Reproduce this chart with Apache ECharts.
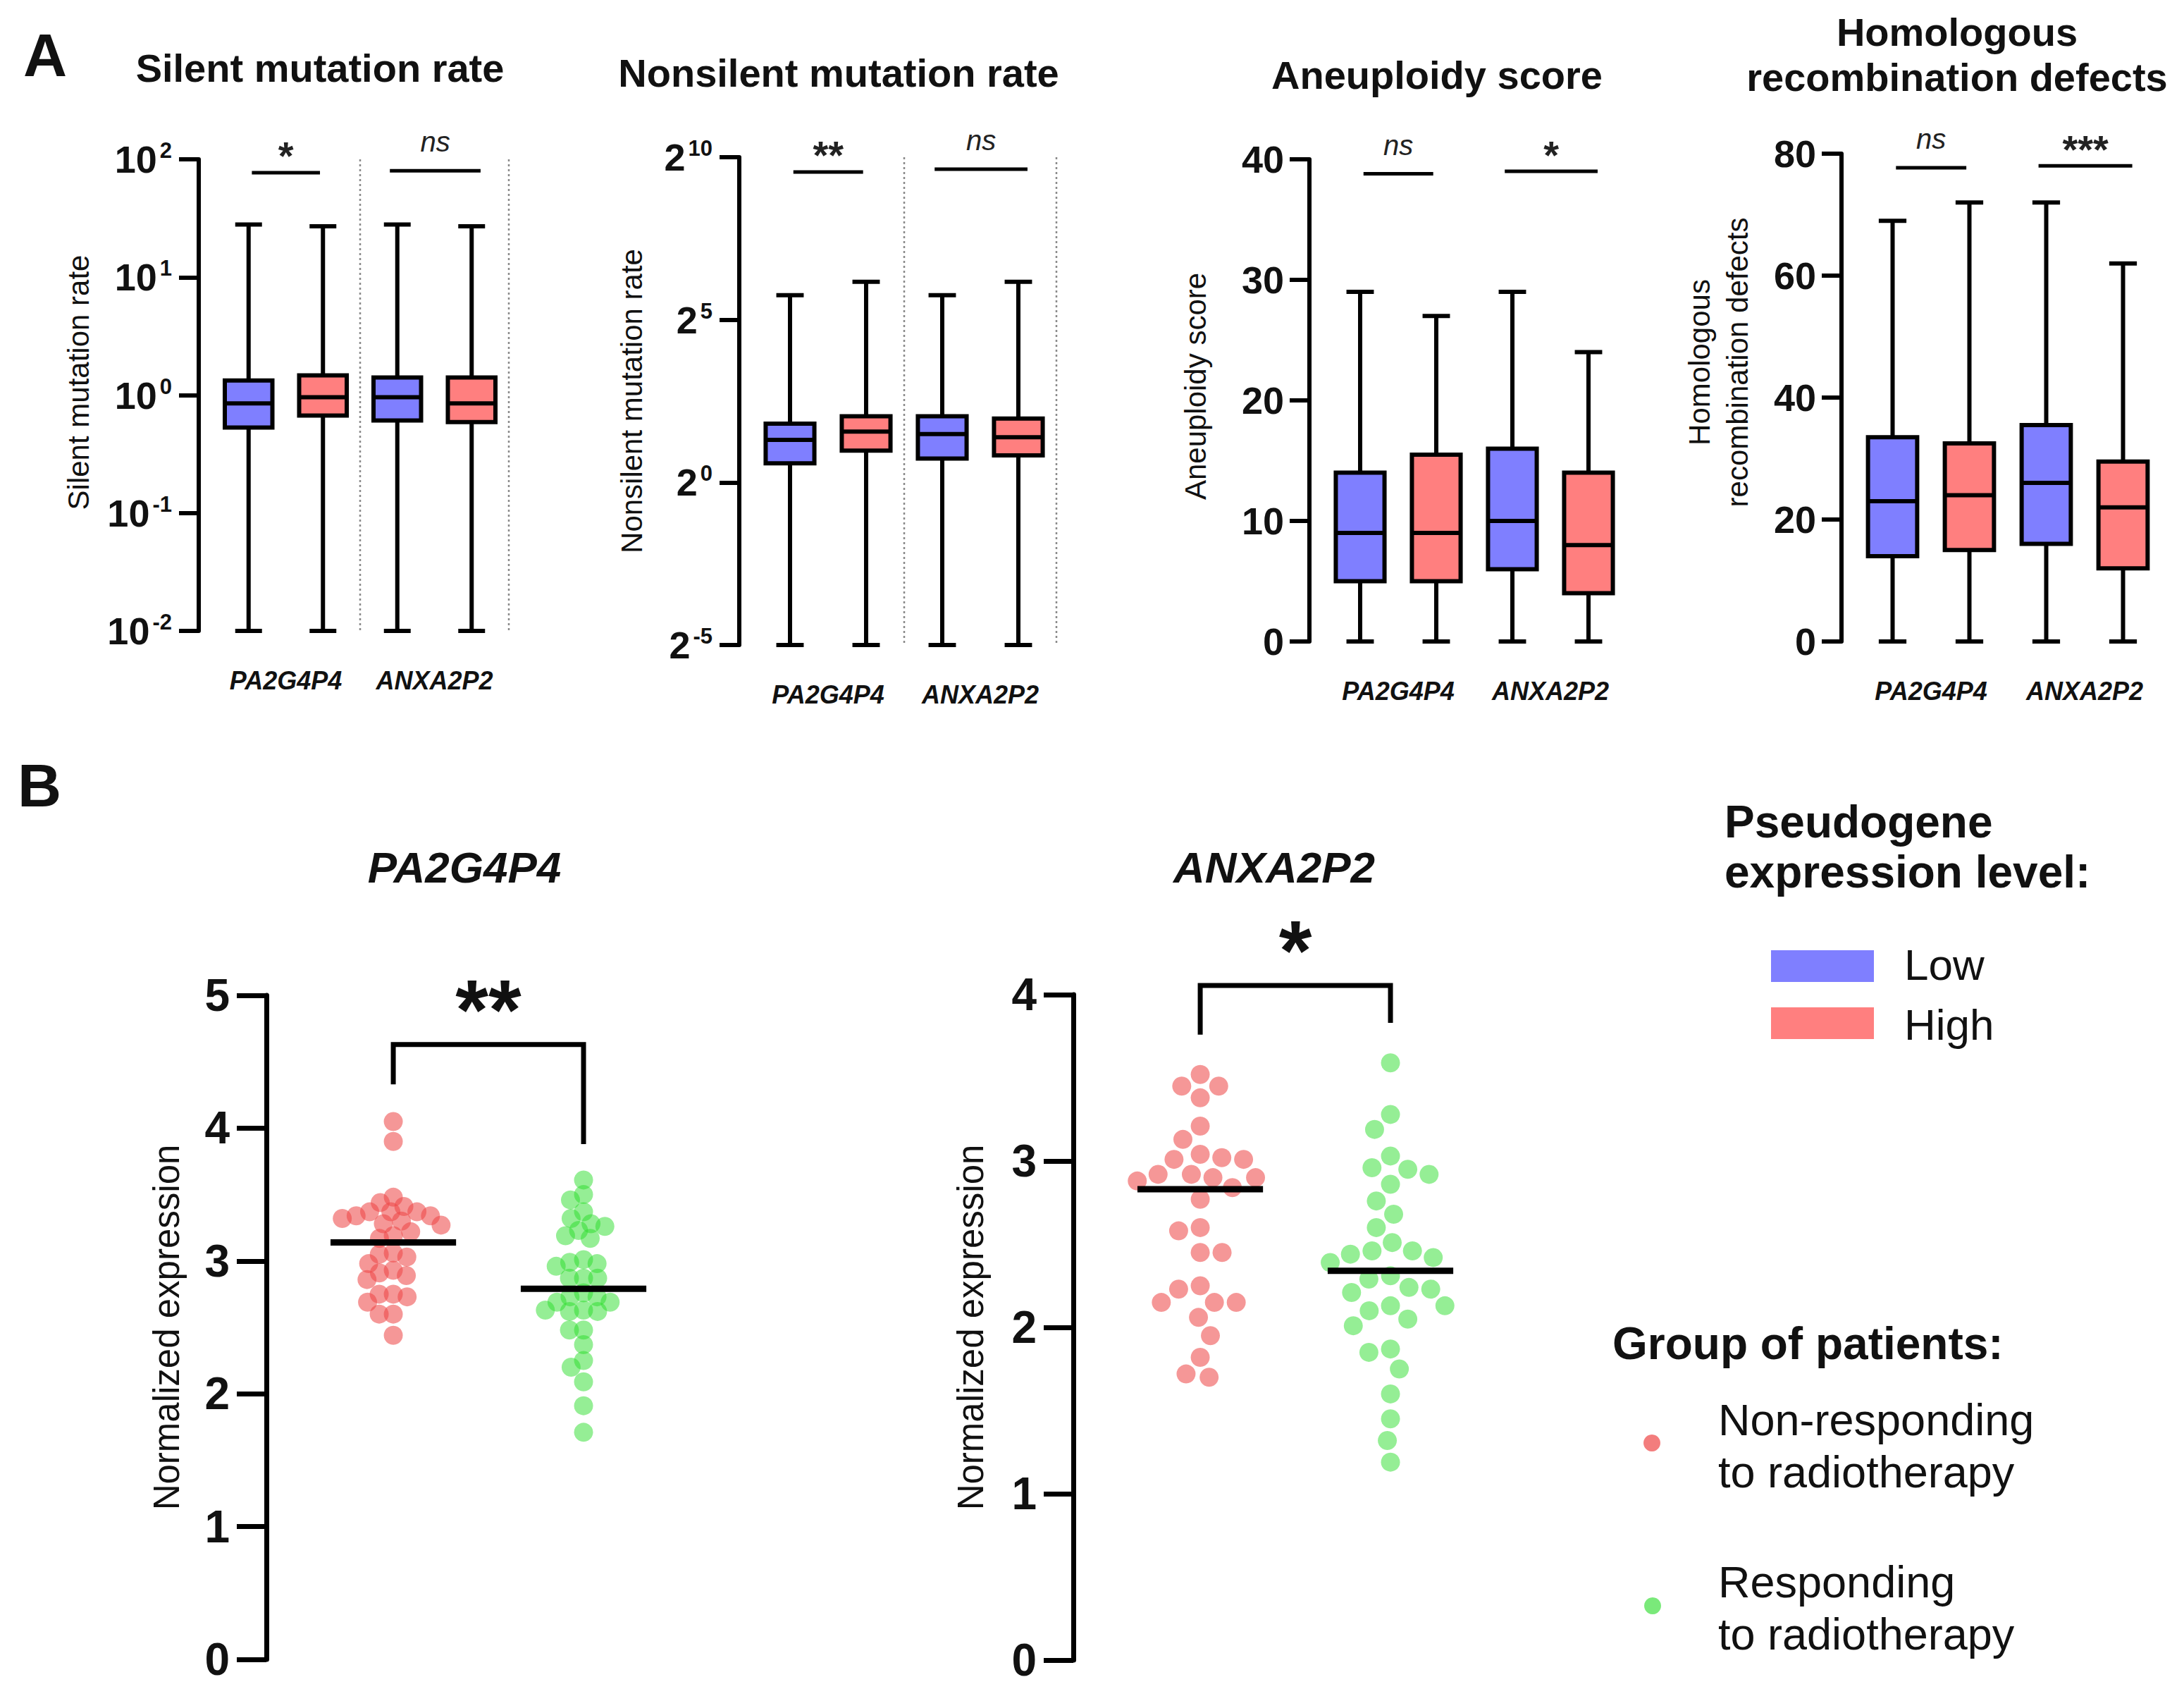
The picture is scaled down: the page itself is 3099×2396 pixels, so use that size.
<!DOCTYPE html>
<html><head><meta charset="utf-8">
<script src="https://cdn.jsdelivr.net/npm/echarts@6/dist/echarts.min.js"></script>
<style>html,body{margin:0;padding:0;background:#fff}#c{width:3099px;height:2396px}</style>
</head><body><div id="c"></div>
<script>
// ---------------- DATA ----------------
const genes = ['PA2G4P4', 'ANXA2P2'];
// box statistics per gene: [min, Q1, median, Q3, max]
const silentLow      = [[0.01, 0.53, 0.85, 1.33, 28], [0.01, 0.61, 0.96, 1.41, 28]];
const silentHigh     = [[0.01, 0.67, 0.96, 1.47, 27], [0.01, 0.59, 0.85, 1.41, 27]];
const nonsilentLow   = [[0.03125, 1.5, 2.48, 3.5, 54], [0.03125, 1.66, 2.8, 4.1, 54]];
const nonsilentHigh  = [[0.03125, 1.97, 2.95, 4.1, 72], [0.03125, 1.78, 2.62, 3.9, 72]];
const aneuploidyLow  = [[0, 5, 9, 14, 29], [0, 6, 10, 16, 29]];
const aneuploidyHigh = [[0, 5, 9, 15.5, 27], [0, 4, 8, 14, 24]];
const hrdLow         = [[0, 14, 23, 33.5, 69], [0, 16, 26, 35.5, 72]];
const hrdHigh        = [[0, 15, 24, 32.5, 72], [0, 12, 22, 29.5, 62]];
// significance labels and bar heights (data units) per gene
const silentSig = ['*', 'ns'];        const silentSigY = [77, 80];
const nonsilentSig = ['**', 'ns'];    const nonsilentSigY = [747, 792];
const aneuploidySig = ['ns', '*'];    const aneuploidySigY = [38.8, 39.0];
const hrdSig = ['ns', '***'];         const hrdSigY = [77.7, 78.0];
// panel B: normalized expression per patient
const nonRespPA2G4P4 = [4.05, 3.90, 3.48, 3.44, 3.41, 3.37, 3.37, 3.37, 3.34, 3.34, 3.32, 3.30, 3.28, 3.27, 3.22, 3.19, 3.17, 3.06, 3.05, 3.03, 2.98, 2.93, 2.91, 2.89, 2.86, 2.75, 2.75, 2.73, 2.69, 2.60, 2.60, 2.44];
const respPA2G4P4 = [3.61, 3.50, 3.46, 3.37, 3.32, 3.28, 3.26, 3.23, 3.19, 3.17, 3.01, 2.99, 2.98, 2.96, 2.87, 2.87, 2.87, 2.76, 2.73, 2.73, 2.69, 2.69, 2.63, 2.63, 2.62, 2.62, 2.48, 2.48, 2.37, 2.25, 2.20, 2.09, 1.91, 1.71];
const nonRespANXA2P2 = [3.52, 3.45, 3.45, 3.38, 3.21, 3.13, 3.04, 3.02, 3.01, 3.01, 2.92, 2.92, 2.90, 2.90, 2.88, 2.84, 2.77, 2.60, 2.58, 2.45, 2.45, 2.25, 2.23, 2.15, 2.15, 2.15, 2.06, 1.95, 1.82, 1.72, 1.70];
const respANXA2P2 = [3.59, 3.28, 3.19, 3.03, 2.96, 2.95, 2.92, 2.86, 2.76, 2.68, 2.60, 2.51, 2.46, 2.46, 2.44, 2.42, 2.39, 2.31, 2.29, 2.24, 2.23, 2.21, 2.13, 2.13, 2.10, 2.05, 2.01, 1.87, 1.85, 1.75, 1.60, 1.45, 1.32, 1.19];
const meanPA2G4P4 = [3.14, 2.79];   // [non-responding, responding]
const meanANXA2P2 = [2.83, 2.34];
// bracket: [x left group, x right group, top, left end, right end]
const bracketPA2G4P4 = [1, 2, 4.63, 4.33, 3.88]; const sigPA2G4P4 = '**';
const bracketANXA2P2 = [1, 2, 4.055, 3.76, 3.83]; const sigANXA2P2 = '*';

// ---------------- STYLE / LAYOUT ----------------
const FF = '"Liberation Sans", Arial, Helvetica, sans-serif';
const BLUE = '#7F7FFF', RED = '#FF7F7F';
const DOT_RED = 'rgba(238,70,70,0.7)', DOT_GREEN = 'rgba(40,220,40,0.62)';
const ident = v => v;
const lg10 = v => Math.log10(v);
const lg2 = v => Math.log2(v);

const panelA = [
  {grid: {left: 300, top: 226, width: 422, height: 669}, title: 'Silent mutation rate', tx: 454, ty: 96,
   yName: 'Silent mutation rate', nameGap: 144, namePad: 36, low: silentLow, high: silentHigh, tf: lg10, min: -2, max: 2, interval: 1, base: '10',
   sig: silentSig, sigY: silentSigY, sep: true},
  {grid: {left: 1067, top: 223, width: 432, height: 692}, title: 'Nonsilent mutation rate', tx: 1190, ty: 103,
   yName: 'Nonsilent mutation rate', nameGap: 126, namePad: 0, low: nonsilentLow, high: nonsilentHigh, tf: lg2, min: -5, max: 10, interval: 5, base: '2',
   sig: nonsilentSig, sigY: nonsilentSigY, sep: true},
  {grid: {left: 1876, top: 226, width: 432, height: 684}, title: 'Aneuploidy score', tx: 2039, ty: 106,
   yName: 'Aneuploidy score', nameGap: 135, namePad: 40, low: aneuploidyLow, high: aneuploidyHigh, tf: ident, min: 0, max: 40, interval: 10, base: null,
   sig: aneuploidySig, sigY: aneuploidySigY, sep: false},
  {grid: {left: 2631, top: 218, width: 436, height: 692}, title: 'Homologous\nrecombination defects', tx: 2777, ty: 77,
   yName: 'Homologous\nrecombination defects', nameGap: 121, namePad: 100, low: hrdLow, high: hrdHigh, tf: ident, min: 0, max: 80, interval: 20, base: null,
   sig: hrdSig, sigY: hrdSigY, sep: false}
];
const panelB = [
  {grid: {left: 378, top: 1412, width: 612, height: 942}, max: 5, nameGap: 116, title: 'PA2G4P4', tx: 659,
   red: nonRespPA2G4P4, green: respPA2G4P4, mean: meanPA2G4P4, bracket: bracketPA2G4P4, sig: sigPA2G4P4, D: 20, sigOff: 50},
  {grid: {left: 1523, top: 1411, width: 612, height: 944}, max: 4, nameGap: 120, title: 'ANXA2P2', tx: 1808,
   red: nonRespANXA2P2, green: respANXA2P2, mean: meanANXA2P2, bracket: bracketANXA2P2, sig: sigANXA2P2, D: 31, sigOff: 50}
];

const grid = [], xAxis = [], yAxis = [], series = [], graphic = [];

function boxRenderer(level, color) {
  return function (params, api) {
    const g = api.value(0);
    const bw = api.size([1, 0])[0];
    const cx = api.coord([g, api.value(3)])[0] + (level - 0.5) * bw / 2;
    const y = k => api.coord([g, api.value(k)])[1];
    const yMin = y(1), yQ1 = y(2), yMed = y(3), yQ3 = y(4), yMax = y(5);
    const hw = 0.16 * bw, cw = 0.09 * bw;
    const ls = {stroke: '#000', lineWidth: 6};
    return {type: 'group', children: [
      {type: 'line', shape: {x1: cx, y1: yMax, x2: cx, y2: yMin}, style: ls},
      {type: 'line', shape: {x1: cx - cw, y1: yMax, x2: cx + cw, y2: yMax}, style: ls},
      {type: 'line', shape: {x1: cx - cw, y1: yMin, x2: cx + cw, y2: yMin}, style: ls},
      {type: 'rect', shape: {x: cx - hw, y: yQ3, width: 2 * hw, height: yQ1 - yQ3}, style: {fill: color, stroke: '#000', lineWidth: 6}},
      {type: 'line', shape: {x1: cx - hw, y1: yMed, x2: cx + hw, y2: yMed}, style: ls}
    ]};
  };
}

panelA.forEach((p, i) => {
  grid.push(Object.assign({containLabel: false, outerBoundsMode: 'none'}, p.grid));
  xAxis.push({
    type: 'category', gridIndex: i, data: genes, boundaryGap: true,
    axisLine: {show: false}, axisTick: {show: false}, splitLine: {show: false},
    axisLabel: {interval: 0, hideOverlap: false, fontSize: 36, fontWeight: 'bold', fontStyle: 'italic', color: '#111', fontFamily: FF, margin: 52}
  });
  const rich = {
    b: {fontSize: 54, fontWeight: 'bold', color: '#111', fontFamily: FF, lineHeight: 56},
    s: {fontSize: 31, fontWeight: 'bold', color: '#111', fontFamily: FF, lineHeight: 32, verticalAlign: 'top', padding: [0, 0, 0, 4]}
  };
  yAxis.push({
    type: 'value', gridIndex: i, min: p.min, max: p.max, interval: p.interval, offset: 18,
    name: p.yName, nameLocation: 'middle', nameRotate: 90, nameGap: p.nameGap, nameMoveOverlap: false,
    nameTextStyle: {fontSize: 42, color: '#111', fontFamily: FF, lineHeight: 54, padding: [0, 0, 0, p.namePad]},
    axisLine: {show: true, onZero: false, lineStyle: {color: '#000', width: 6}},
    axisTick: {show: true, length: 28, lineStyle: {color: '#000', width: 6}},
    axisLabel: p.base
      ? {margin: 38, hideOverlap: false, formatter: v => '{b|' + p.base + '}{s|' + v + '}', rich: rich}
      : {margin: 36, hideOverlap: false, fontSize: 54, fontWeight: 'bold', color: '#111', fontFamily: FF},
    splitLine: {show: false}
  });
  series.push({
    type: 'custom', name: 'Low', xAxisIndex: i, yAxisIndex: i, clip: false, z: 3,
    data: p.low.map((s, g) => [g].concat(s.map(p.tf))), encode: {x: 0, y: [1, 2, 3, 4, 5]},
    renderItem: boxRenderer(0, BLUE)
  });
  series.push({
    type: 'custom', name: 'High', xAxisIndex: i, yAxisIndex: i, clip: false, z: 3,
    data: p.high.map((s, g) => [g].concat(s.map(p.tf))), encode: {x: 0, y: [1, 2, 3, 4, 5]},
    renderItem: boxRenderer(1, RED)
  });
  const sigTexts = p.sig;
  series.push({
    type: 'custom', xAxisIndex: i, yAxisIndex: i, clip: false, z: 4,
    data: p.sigY.map((v, g) => [g, p.tf(v)]), encode: {x: 0, y: 1},
    renderItem: function (params, api) {
      const g = api.value(0);
      const bw = api.size([1, 0])[0];
      const c = api.coord([g, api.value(1)]);
      const x1 = g === 0 ? c[0] - 0.228 * bw : c[0] - 0.30 * bw;
      const x2 = g === 0 ? c[0] + 0.23 * bw : c[0] + 0.31 * bw;
      const t = sigTexts[params.dataIndex];
      const isNs = t === 'ns';
      return {type: 'group', children: [
        {type: 'line', shape: {x1: x1, y1: c[1], x2: x2, y2: c[1]}, style: {stroke: '#000', lineWidth: 5}},
        {type: 'text', x: (x1 + x2) / 2, y: c[1] - (isNs ? 41 : 24), style: {
          text: t, fill: '#222', textAlign: 'center', textVerticalAlign: 'middle',
          font: (isNs ? 'italic normal 40px ' : 'normal bold 56px ') + FF}}
      ]};
    }
  });
  if (p.sep) {
    series.push({
      type: 'custom', xAxisIndex: i, yAxisIndex: i, clip: false, z: 1,
      data: [[0, p.min], [1, p.min]], encode: {x: 0, y: 1},
      renderItem: function (params, api) {
        const bw = api.size([1, 0])[0];
        const x = api.coord([api.value(0), api.value(1)])[0] + bw / 2;
        const cs = params.coordSys;
        return {type: 'line', shape: {x1: x, y1: cs.y, x2: x, y2: cs.y + cs.height},
          style: {stroke: '#8a8a8a', lineWidth: 2.5, lineDash: [3, 4]}};
      }
    });
  }
  graphic.push({type: 'text', x: p.tx, y: p.ty, style: {text: p.title, font: 'bold 56px ' + FF, fill: '#111',
    textAlign: 'center', textVerticalAlign: 'middle', lineHeight: 64}});
});

panelB.forEach((p, k) => {
  const i = 4 + k;
  grid.push(Object.assign({containLabel: false, outerBoundsMode: 'none'}, p.grid));
  xAxis.push({type: 'value', gridIndex: i, min: 0.333, max: 2.6, show: false});
  yAxis.push({
    type: 'value', gridIndex: i, min: 0, max: p.max, interval: 1,
    name: 'Normalized expression', nameLocation: 'middle', nameRotate: 90, nameGap: p.nameGap, nameMoveOverlap: false,
    nameTextStyle: {fontSize: 51, color: '#111', fontFamily: FF},
    axisLine: {show: true, onZero: false, lineStyle: {color: '#000', width: 7}},
    axisTick: {show: true, length: 42, lineStyle: {color: '#000', width: 7}},
    axisLabel: {margin: 52, hideOverlap: false, fontSize: 64, fontWeight: 'bold', color: '#111', fontFamily: FF},
    splitLine: {show: false}
  });
  series.push({id: 'red' + k, type: 'scatter', name: 'Non-responding\nto radiotherapy', xAxisIndex: i, yAxisIndex: i,
    symbol: 'circle', symbolSize: 27, itemStyle: {color: DOT_RED}, data: p.red.map(v => [1, v]), z: 2});
  series.push({id: 'green' + k, type: 'scatter', name: 'Responding\nto radiotherapy', xAxisIndex: i, yAxisIndex: i,
    symbol: 'circle', symbolSize: 27, itemStyle: {color: DOT_GREEN}, data: p.green.map(v => [2, v]), z: 2});
  series.push({
    type: 'custom', xAxisIndex: i, yAxisIndex: i, clip: false, z: 5,
    data: p.mean.map((v, g) => [g + 1, v]), encode: {x: 0, y: 1},
    renderItem: function (params, api) {
      const c = api.coord([api.value(0), api.value(1)]);
      const hw = api.size([0.33, 0])[0];
      return {type: 'line', shape: {x1: c[0] - hw, y1: c[1], x2: c[0] + hw, y2: c[1]}, style: {stroke: '#000', lineWidth: 9}};
    }
  });
  const sig = p.sig, off = p.sigOff;
  series.push({
    type: 'custom', xAxisIndex: i, yAxisIndex: i, clip: false, z: 5,
    data: [p.bracket], encode: {x: [0, 1], y: [2, 3, 4]},
    renderItem: function (params, api) {
      const pL = api.coord([api.value(0), api.value(2)]);
      const pR = api.coord([api.value(1), api.value(2)]);
      const eL = api.coord([api.value(0), api.value(3)]);
      const eR = api.coord([api.value(1), api.value(4)]);
      return {type: 'group', children: [
        {type: 'polyline', shape: {points: [eL, pL, pR, eR]}, style: {stroke: '#000', lineWidth: 7, fill: null, lineJoin: 'miter'}},
        {type: 'text', x: (pL[0] + pR[0]) / 2, y: pL[1] - off, style: {text: sig, fill: '#111',
          textAlign: 'center', textVerticalAlign: 'middle', font: 'bold 120px ' + FF}}
      ]};
    }
  });
  graphic.push({type: 'text', x: p.tx, y: 1230, style: {text: p.title, font: 'italic bold 62px ' + FF, fill: '#111',
    textAlign: 'center', textVerticalAlign: 'middle'}});
});

// panel letters and legends
graphic.push(
  {type: 'text', x: 64, y: 78, style: {text: 'A', font: 'bold 86px ' + FF, fill: '#111', textAlign: 'center', textVerticalAlign: 'middle'}},
  {type: 'text', x: 56, y: 1114, style: {text: 'B', font: 'bold 86px ' + FF, fill: '#111', textAlign: 'center', textVerticalAlign: 'middle'}},
  {type: 'text', x: 2447, y: 1201, style: {text: 'Pseudogene\nexpression level:', font: 'bold 64px ' + FF, lineHeight: 71, fill: '#111', textAlign: 'left', textVerticalAlign: 'middle'}},
  {type: 'rect', shape: {x: 2513, y: 1348, width: 146, height: 45}, style: {fill: BLUE}},
  {type: 'rect', shape: {x: 2513, y: 1429, width: 146, height: 45}, style: {fill: RED}},
  {type: 'text', x: 2702, y: 1368, style: {text: 'Low', font: '62px ' + FF, fill: '#111', textAlign: 'left', textVerticalAlign: 'middle'}},
  {type: 'text', x: 2702, y: 1453, style: {text: 'High', font: '62px ' + FF, fill: '#111', textAlign: 'left', textVerticalAlign: 'middle'}},
  {type: 'text', x: 2288, y: 1906, style: {text: 'Group of patients:', font: 'bold 64px ' + FF, fill: '#111', textAlign: 'left', textVerticalAlign: 'middle'}},
  {type: 'circle', shape: {cx: 2344, cy: 2047, r: 12}, style: {fill: DOT_RED}},
  {type: 'circle', shape: {cx: 2345, cy: 2278, r: 12}, style: {fill: DOT_GREEN}},
  {type: 'text', x: 2438, y: 2051, style: {text: 'Non-responding\nto radiotherapy', font: '63px ' + FF, lineHeight: 74, fill: '#111', textAlign: 'left', textVerticalAlign: 'middle'}},
  {type: 'text', x: 2438, y: 2281, style: {text: 'Responding\nto radiotherapy', font: '63px ' + FF, lineHeight: 74, fill: '#111', textAlign: 'left', textVerticalAlign: 'middle'}}
);

const chart = echarts.init(document.getElementById('c'), null, {renderer: 'svg', width: 3099, height: 2396});
chart.setOption({
  backgroundColor: '#ffffff', animation: false,
  textStyle: {fontFamily: FF},
  grid: grid, xAxis: xAxis, yAxis: yAxis, series: series, graphic: graphic
});

// beeswarm layout (horizontal offsets computed from values through the chart's scales)
function swarm(values, gi, center, D) {
  const cx = chart.convertToPixel({gridIndex: gi}, [center, 0])[0];
  const pts = values.map(v => ({v: v, y: chart.convertToPixel({gridIndex: gi}, [center, v])[1], x: 0}));
  const order = pts.slice().sort((a, b) => a.y - b.y);
  const placed = [];
  for (const p of order) {
    const cands = [0];
    for (const q of placed) {
      const dy = p.y - q.y;
      if (Math.abs(dy) < D) { const dx = Math.sqrt(D * D - dy * dy); cands.push(q.x + dx, q.x - dx); }
    }
    cands.sort((a, b) => Math.abs(a) - Math.abs(b) || a - b);
    for (const c of cands) {
      if (placed.every(q => (c - q.x) * (c - q.x) + (p.y - q.y) * (p.y - q.y) >= D * D - 0.01)) { p.x = c; break; }
    }
    placed.push(p);
  }
  return pts.map(p => [chart.convertFromPixel({gridIndex: gi}, [cx + p.x, p.y])[0], p.v]);
}
const upd = [];
panelB.forEach((p, k) => {
  upd.push({id: 'red' + k, data: swarm(p.red, 4 + k, 1, p.D)});
  upd.push({id: 'green' + k, data: swarm(p.green, 4 + k, 2, p.D)});
});
chart.setOption({series: upd});
</script>
</body></html>
